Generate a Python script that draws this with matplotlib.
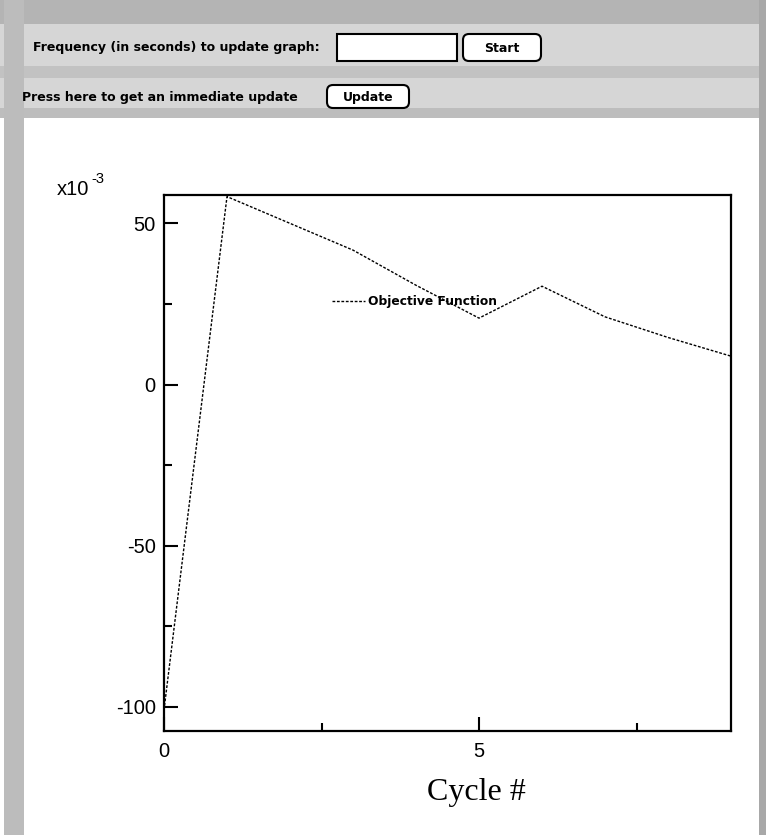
import matplotlib
matplotlib.use('Agg')
import matplotlib.pyplot as plt
from matplotlib.patches import Rectangle, FancyBboxPatch
from matplotlib.ticker import MultipleLocator

plt.rcParams['axes.unicode_minus'] = False

# data
cycles = [0, 1, 2, 3, 4, 5, 6, 7, 8, 9]
objective = [-101, 58.3, 50.0, 41.7, 30.8, 20.6, 30.5, 21.0, 14.6, 8.8]   # x 1e-3

W, H = 766, 835
fig = plt.figure(figsize=(W / 100, H / 100), dpi=100)

# ---- page background (pixel coordinates) ----
bg = fig.add_axes([0, 0, 1, 1])
bg.set_xlim(0, W); bg.set_ylim(H, 0); bg.axis('off')
ui_font = ['Liberation Sans Narrow', 'DejaVu Sans']

bg.add_patch(Rectangle((0, 0), W, 118, fc='#d6d6d6', ec='none'))
bg.add_patch(Rectangle((0, 0), W, 24, fc='#b4b4b4', ec='none'))
bg.add_patch(Rectangle((0, 66), W, 12, fc='#c2c2c2', ec='none'))
bg.add_patch(Rectangle((0, 108), W, 10, fc='#bdbdbd', ec='none'))
bg.add_patch(Rectangle((4, 0), 20, H, fc='#bcbcbc', ec='none'))
bg.add_patch(Rectangle((759, 0), 7, H, fc='#a8a8a8', ec='none'))

# header controls
bg.text(33, 48, 'Frequency (in seconds) to update graph:', fontsize=9,
        fontweight='bold', family=ui_font, va='center', ha='left')
bg.add_patch(Rectangle((337, 34), 120, 27, fc='white', ec='black', lw=1.5))
bg.add_patch(FancyBboxPatch((465, 36), 74, 23, boxstyle='round,pad=2,rounding_size=6',
                            fc='white', ec='black', lw=1.5))
bg.text(502, 48, 'Start', fontsize=9, fontweight='bold', family=ui_font,
        va='center', ha='center')
bg.text(22, 97, 'Press here to get an immediate update', fontsize=9,
        fontweight='bold', family=ui_font, va='center', ha='left')
bg.add_patch(FancyBboxPatch((329, 87), 78, 19, boxstyle='round,pad=2,rounding_size=6',
                            fc='white', ec='black', lw=1.5))
bg.text(368, 97, 'Update', fontsize=9, fontweight='bold', family=ui_font,
        va='center', ha='center')

# exponent label
bg.text(57, 195, 'x10', fontsize=14.5, family='Liberation Sans', va='baseline')
bg.text(91, 183, '-3', fontsize=10.5, family='Liberation Sans', va='baseline')

# ---- plot ----
ax = fig.add_axes([164 / W, 1 - 731 / H, (731 - 164) / W, (731 - 195) / H])
ax.plot(cycles, objective, color='black', lw=1.0, ls=(0, (2, 1.2)),
        label='Objective Function')
ax.set_xlim(0, 9)
ax.set_ylim(-107.5, 58.8)
ax.xaxis.set_major_locator(MultipleLocator(5))
ax.xaxis.set_minor_locator(MultipleLocator(2.5))
ax.yaxis.set_major_locator(MultipleLocator(50))
ax.yaxis.set_minor_locator(MultipleLocator(25))
ax.tick_params(which='both', direction='in', top=False, right=False, width=1.5)
ax.tick_params(which='major', length=10)
ax.tick_params(which='minor', length=5.5)
ax.tick_params(axis='y', which='major', labelsize=14.5, pad=6)
ax.tick_params(axis='x', which='major', labelsize=14.5, pad=8)
for lab in ax.get_xticklabels() + ax.get_yticklabels():
    lab.set_family('Liberation Sans')
for s in ax.spines.values():
    s.set_linewidth(1.6)
ax.set_xlabel('Cycle #', fontsize=23, family='Liberation Serif',
              x=(476 - 164) / 567, labelpad=12)
leg = ax.legend(loc='center left', bbox_to_anchor=(0.296, 0.801), frameon=False,
                borderpad=0, borderaxespad=0, handlelength=2.7, handletextpad=0.25,
                prop={'family': ui_font, 'weight': 'bold', 'size': 8.8})

fig.savefig('out.png', dpi=100)
